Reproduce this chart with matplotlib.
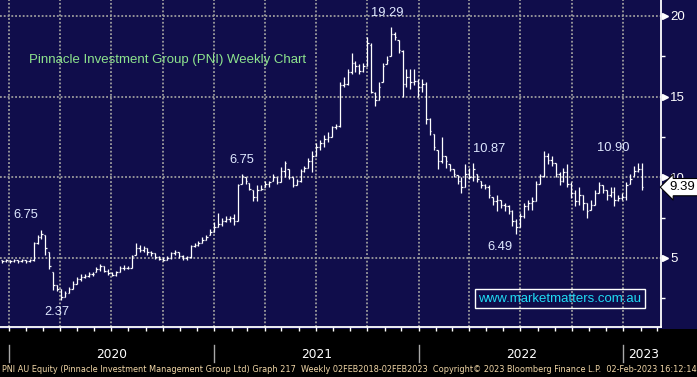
import numpy as np
import matplotlib
matplotlib.use("Agg")
import matplotlib.pyplot as plt
import matplotlib.dates as mdates
import pandas as pd

# weekly OHLC, Fridays from 20-Dec-2019 to 03-Feb-2023
first_week = "2019-12-20"

opens = [
    4.85, 4.80, 4.85, 4.80, 4.85, 4.80, 4.90, 4.82, 4.85, 5.90,
    6.30, 6.40, 5.40, 4.10, 3.30, 3.10, 2.60, 2.80, 3.10, 3.40,
    3.70, 3.80, 3.90, 4.00, 4.10, 4.30, 4.50, 4.20, 4.05, 3.95,
    4.10, 4.40, 4.35, 4.40, 5.20, 5.60, 5.50, 5.60, 5.35, 5.30,
    5.05, 4.95, 4.90, 5.00, 5.30, 5.35, 5.10, 5.00, 5.05, 5.75,
    5.80, 5.90, 6.10, 6.40, 6.60, 6.90, 7.10, 7.30, 7.40, 7.50,
    7.30, 9.60, 10.00, 9.65, 9.20, 8.80, 9.20, 9.40, 9.60, 9.80,
    10.00, 9.70, 10.40, 10.50, 10.00, 9.50, 9.80, 10.40, 10.60, 11.00,
    11.30, 11.90, 12.10, 12.40, 12.50, 13.10, 13.20, 15.70, 15.80, 16.50,
    17.10, 16.90, 16.60, 16.90, 18.20, 15.20, 14.80, 15.90, 17.00, 17.50,
    18.90, 18.50, 17.80, 15.80, 16.20, 15.90, 16.00, 15.60, 15.80, 13.60,
    12.70, 11.70, 11.00, 11.30, 10.80, 10.50, 10.15, 9.80, 9.40, 10.20,
    10.00, 10.20, 9.80, 9.50, 9.40, 8.80, 8.50, 8.60, 8.30, 8.20,
    7.90, 7.30, 6.90, 7.60, 8.20, 8.40, 8.50, 9.60, 10.10, 11.30,
    11.10, 10.90, 10.20, 9.80, 10.30, 9.60, 9.00, 8.50, 8.90, 8.40,
    8.00, 8.30, 9.00, 9.50, 9.20, 8.90, 9.10, 8.60, 8.70, 8.80,
    9.60, 10.10, 10.40, 10.50,
]
highs = [
    4.90, 4.95, 4.90, 4.95, 4.90, 4.95, 4.90, 4.95, 6.00, 6.45,
    6.75, 6.40, 5.40, 4.10, 3.35, 3.10, 2.95, 3.20, 3.60, 3.80,
    4.00, 4.00, 4.10, 4.10, 4.45, 4.60, 4.50, 4.30, 4.15, 4.20,
    4.50, 4.55, 4.50, 5.20, 5.90, 5.80, 5.75, 5.60, 5.45, 5.30,
    5.10, 5.05, 5.10, 5.40, 5.50, 5.35, 5.20, 5.15, 5.80, 5.95,
    6.05, 6.30, 6.40, 6.80, 7.20, 7.80, 7.50, 7.60, 7.60, 7.70,
    9.60, 10.20, 10.00, 9.65, 9.20, 9.50, 9.50, 9.80, 9.80, 10.20,
    10.00, 10.65, 11.00, 10.50, 10.00, 9.90, 10.50, 10.70, 11.20, 11.60,
    12.10, 12.30, 12.60, 12.80, 13.20, 13.30, 15.90, 16.20, 16.70, 17.70,
    17.20, 17.00, 17.10, 18.70, 18.30, 15.30, 15.90, 17.10, 17.50, 19.29,
    19.00, 18.50, 17.90, 16.70, 16.70, 16.70, 16.10, 16.10, 15.90, 13.70,
    12.70, 11.70, 12.50, 11.30, 10.80, 10.50, 10.15, 10.00, 10.80, 10.60,
    10.87, 10.20, 9.80, 9.60, 9.50, 8.80, 8.90, 8.60, 8.40, 8.30,
    8.00, 7.40, 7.80, 8.40, 8.60, 8.80, 9.80, 10.20, 11.60, 11.50,
    11.30, 10.90, 10.30, 10.60, 10.80, 9.70, 9.20, 9.40, 8.90, 8.40,
    8.60, 9.20, 9.70, 9.50, 9.20, 9.40, 9.40, 8.90, 9.00, 9.70,
    10.20, 10.70, 10.90, 10.90,
]
lows = [
    4.70, 4.75, 4.70, 4.75, 4.70, 4.75, 4.70, 4.75, 4.80, 5.85,
    6.20, 5.20, 4.30, 3.00, 2.95, 2.37, 2.60, 2.80, 3.10, 3.40,
    3.60, 3.75, 3.80, 3.90, 4.10, 4.20, 4.10, 3.95, 3.90, 3.90,
    4.10, 4.25, 4.30, 4.40, 5.20, 5.40, 5.40, 5.20, 5.15, 4.95,
    4.85, 4.80, 4.85, 4.95, 5.20, 5.00, 4.90, 4.90, 5.00, 5.65,
    5.75, 5.90, 6.10, 6.40, 6.60, 6.90, 7.00, 7.20, 7.20, 7.05,
    7.30, 9.60, 9.60, 9.20, 8.50, 8.50, 9.20, 9.40, 9.40, 9.80,
    9.60, 9.70, 10.00, 9.90, 9.40, 9.50, 9.70, 10.30, 10.60, 10.30,
    11.30, 11.70, 11.90, 12.20, 12.50, 13.00, 13.10, 15.60, 15.70, 16.40,
    16.50, 16.40, 16.50, 16.90, 15.20, 14.40, 14.80, 15.90, 17.00, 17.50,
    18.50, 17.70, 15.00, 15.60, 15.50, 15.70, 15.00, 15.30, 13.30, 12.60,
    11.70, 10.50, 10.90, 10.60, 10.40, 10.00, 9.60, 9.00, 9.40, 9.90,
    9.80, 9.70, 9.35, 9.30, 8.70, 8.30, 7.90, 8.10, 7.90, 7.70,
    7.00, 6.49, 6.90, 7.50, 8.00, 8.00, 8.50, 9.60, 10.00, 10.80,
    10.70, 10.00, 9.50, 9.70, 9.40, 8.70, 8.20, 8.30, 8.00, 7.50,
    8.00, 8.30, 9.00, 9.00, 8.60, 8.80, 8.20, 8.50, 8.60, 8.60,
    9.60, 10.10, 10.30, 9.20,
]
closes = [
    4.80, 4.85, 4.80, 4.85, 4.80, 4.90, 4.82, 4.85, 5.90, 6.30,
    6.50, 5.60, 4.50, 3.30, 3.10, 2.60, 2.80, 3.10, 3.40, 3.70,
    3.80, 3.90, 4.00, 4.00, 4.30, 4.50, 4.20, 4.05, 3.95, 4.10,
    4.40, 4.35, 4.40, 5.10, 5.60, 5.50, 5.60, 5.35, 5.30, 5.05,
    4.95, 4.90, 5.00, 5.30, 5.35, 5.10, 5.00, 5.05, 5.75, 5.80,
    5.90, 6.10, 6.30, 6.60, 6.90, 7.10, 7.30, 7.40, 7.50, 7.30,
    9.50, 10.10, 9.80, 9.30, 8.80, 9.20, 9.30, 9.60, 9.70, 10.00,
    9.70, 10.40, 10.90, 10.00, 9.50, 9.80, 10.40, 10.60, 11.00, 11.30,
    11.90, 12.10, 12.40, 12.50, 13.10, 13.20, 15.70, 15.80, 16.50, 17.10,
    16.90, 16.60, 16.90, 18.30, 15.30, 14.80, 15.60, 16.90, 17.30, 18.90,
    18.70, 17.90, 15.80, 16.20, 15.90, 16.00, 15.60, 15.80, 13.60, 12.90,
    11.90, 11.00, 11.30, 11.00, 10.50, 10.20, 9.80, 9.40, 10.20, 10.00,
    10.50, 9.90, 9.50, 9.40, 8.90, 8.50, 8.60, 8.30, 8.20, 7.90,
    7.30, 6.90, 7.60, 8.20, 8.40, 8.50, 9.60, 10.10, 11.30, 11.10,
    10.90, 10.20, 9.80, 10.30, 9.60, 9.00, 8.50, 8.90, 8.40, 7.90,
    8.30, 9.00, 9.50, 9.20, 8.90, 9.10, 8.60, 8.70, 8.80, 9.50,
    9.90, 10.40, 10.50, 9.39,
]

years = ["2020", "2021", "2022", "2023"]
last_price = 9.39

# labels drawn by Bloomberg on the chart: (text, date, price)
callouts = [
    ("6.75", "2020-01-31", 7.65),
    ("2.37", "2020-03-27", 1.65),
    ("6.75", "2021-02-20", 11.1),
    ("19.29", "2021-11-05", 20.2),
    ("10.87", "2022-05-07", 11.75),
    ("6.49", "2022-05-25", 5.65),
    ("10.90", "2022-12-14", 11.8),
]

navy = "#100d4b"
grid_col = "#9d9d9d"

fig = plt.figure(figsize=(6.97, 3.77), dpi=100, facecolor=navy)
# black strip under the plot (behind the axes)
fig.patches.append(plt.Rectangle((0, 0), 1, 0.128, transform=fig.transFigure,
                                 facecolor="black", zorder=-5))

ax = fig.add_axes([0, 0.1326, 0.9484, 0.8674], facecolor=navy)

dates = mdates.date2num(pd.date_range(first_week, periods=len(closes), freq="7D"))
tick = 2.6
ax.vlines(dates, lows, highs, color="white", lw=0.9)
ax.hlines(opens, dates - tick, dates, color="white", lw=0.9)
ax.hlines(closes, dates, dates + tick, color="white", lw=0.9)

ax.set_xlim(mdates.date2num(pd.Timestamp("2019-12-16")),
            mdates.date2num(pd.Timestamp("2023-03-09")))
ax.set_ylim(0.72, 20.99)

# grid
ax.set_yticks([5, 10, 15, 20])
ax.set_yticks([2.5, 7.5, 12.5, 17.5], minor=True)
quarters = pd.date_range("2020-01-01", "2023-01-01", freq="QS")
for q in quarters:
    ax.axvline(mdates.date2num(q), color=grid_col, lw=1.3, ls=(0, (1, 1.1)), zorder=0)
for y in [5, 10, 15, 20]:
    ax.axhline(y, color=grid_col, lw=1.3, ls=(0, (1, 1.1)), zorder=0)

for s in ["left", "top"]:
    ax.spines[s].set_visible(False)
for s in ["bottom", "right"]:
    ax.spines[s].set_color("white")
    ax.spines[s].set_linewidth(1.3)

ax.yaxis.tick_right()
ax.tick_params(axis="y", which="major", length=0, pad=6.5, labelcolor="white",
               labelsize=9.5)
ax.tick_params(axis="y", which="minor", length=3, width=1, color="white")
for lab in ax.get_yticklabels():
    lab.set_family("Liberation Sans")
ax.plot([1.006] * 4, [5, 10, 15, 20], marker=">", ms=5, color="white", ls="none",
        transform=ax.get_yaxis_transform(), clip_on=False)

months = pd.date_range("2020-01-01", "2023-03-01", freq="MS")
ax.set_xticks(mdates.date2num(months))
ax.set_xticklabels([])
ax.tick_params(axis="x", length=3.2, width=1, color="white")

# year separators and labels under the axis
bounds = [mdates.date2num(pd.Timestamp(f"{y}-01-01")) for y in years]
right_edge = ax.get_xlim()[1]
for i, yr in enumerate(years):
    ax.plot([bounds[i], bounds[i]], [-0.055, -0.107], color="#a8a8a8", lw=1,
            transform=ax.get_xaxis_transform(), clip_on=False)
    end = bounds[i + 1] if i + 1 < len(bounds) else right_edge + 6
    ax.text((bounds[i] + end) / 2, -0.083, yr, color="white", fontsize=8.8,
            family="DejaVu Sans", ha="center", va="center",
            transform=ax.get_xaxis_transform())

# chart title and callouts
fig.text(29 / 697, 1 - 60 / 377, "Pinnacle Investment Group (PNI) Weekly Chart",
         color="#8ee48e", fontsize=9.5, family="Liberation Sans", va="center", ha="left")
for txt, d, p in callouts:
    ax.text(mdates.date2num(pd.Timestamp(d)), p, txt, color="#dfe8ff", fontsize=9.3,
            family="Liberation Sans", ha="center", va="center")

# last price tag
ax.text(1.013, last_price, f"{last_price:.2f}", color="black", fontsize=9.5,
        family="Liberation Sans", ha="left", va="center",
        transform=ax.get_yaxis_transform(), clip_on=False, zorder=5,
        bbox=dict(boxstyle="larrow,pad=0.2", fc="white", ec="black", lw=0.8))

# watermark
fig.text(560 / 697, 1 - 298.5 / 377, "www.marketmatters.com.au", color="#1fdcf4",
         fontsize=9.5, family="Liberation Sans", ha="center", va="center",
         bbox=dict(boxstyle="square,pad=0.25", fc="none", ec="white", lw=1))

# footer
fig.text(2 / 697, 1 - 370 / 377,
         "PNI AU Equity (Pinnacle Investment Management Group Ltd) Graph 217  "
         "Weekly 02FEB2018-02FEB2023  Copyright\u00a9 2023 Bloomberg Finance L.P.  "
         "02-Feb-2023 16:12:14",
         color="#f3d8a8", fontsize=5.85, family="DejaVu Sans",
         ha="left", va="center")

fig.savefig("out.png", dpi=100, facecolor=navy)
